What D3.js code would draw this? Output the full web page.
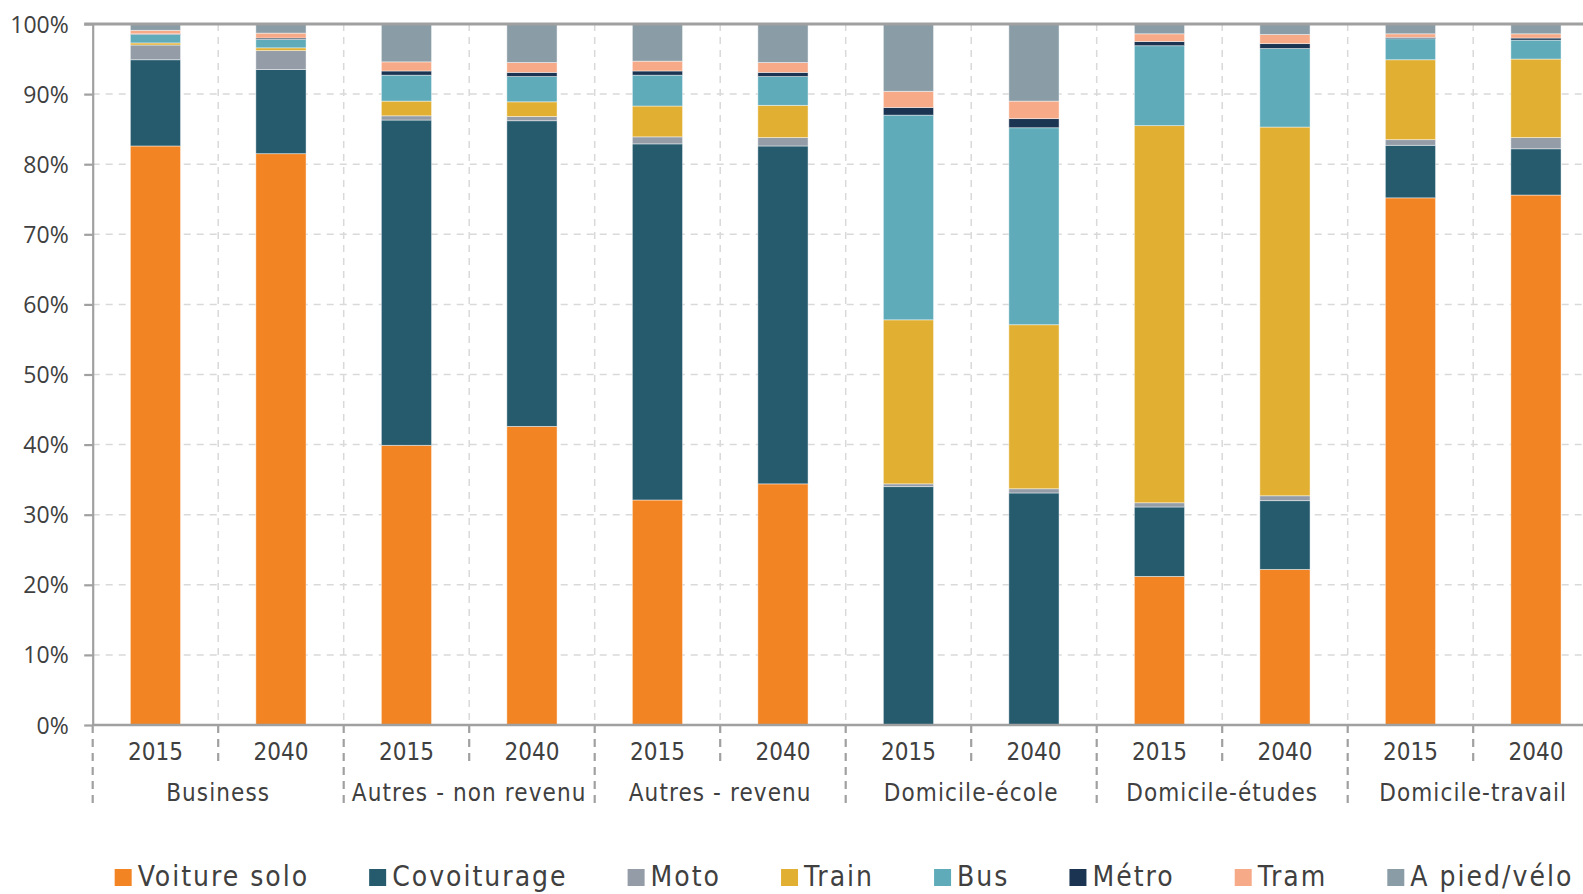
<!DOCTYPE html>
<html>
<head>
<meta charset="utf-8">
<script src="https://cdn.jsdelivr.net/npm/d3@7"></script>
<style>
  html, body { margin: 0; padding: 0; background: #fff; overflow: hidden; }
  svg { display: block; }
</style>
</head>
<body>
<svg id="chart" width="1583" height="894"></svg>
<script>
// ---------- DATA ----------
const categories = ["Business", "Autres - non revenu", "Autres - revenu", "Domicile-école", "Domicile-études", "Domicile-travail"];
const years = ["2015", "2040"];
const seriesNames = ["Voiture solo", "Covoiturage", "Moto", "Train", "Bus", "Métro", "Tram", "A pied/vélo"];

// values in %, order: Business 2015, Business 2040, Autres-non revenu 2015, 2040, ...
const voitureSolo = [82.6, 81.5, 39.9, 42.6, 32.1, 34.4, 0.0, 0.0, 21.2, 22.2, 75.2, 75.6];
const covoiturage = [12.3, 12.0, 46.4, 43.6, 50.8, 48.2, 34.0, 33.1, 9.9, 9.8, 7.5, 6.6];
const moto        = [2.1, 2.7, 0.6, 0.6, 1.0, 1.2, 0.4, 0.6, 0.6, 0.7, 0.8, 1.6];
const train       = [0.3, 0.4, 2.1, 2.1, 4.4, 4.6, 23.4, 23.4, 53.8, 52.6, 11.4, 11.2];
const bus         = [1.2, 1.2, 3.7, 3.6, 4.4, 4.1, 29.2, 28.1, 11.4, 11.2, 3.0, 2.7];
const metro       = [0.1, 0.2, 0.6, 0.6, 0.6, 0.6, 1.1, 1.3, 0.6, 0.7, 0.2, 0.3];
const tram        = [0.5, 0.7, 1.3, 1.4, 1.4, 1.4, 2.3, 2.5, 1.1, 1.3, 0.5, 0.6];
const aPiedVelo   = [0.9, 1.3, 5.4, 5.5, 5.3, 5.5, 9.6, 11.0, 1.4, 1.5, 1.4, 1.4];

const yTicks = [0, 10, 20, 30, 40, 50, 60, 70, 80, 90, 100];

const colors = ["#F28423", "#265B6E", "#939CA7", "#E1B033", "#5FABBA", "#1B3452", "#F6AA87", "#8A9DA7"];

// ---------- BUILD ----------
const seriesValues = [voitureSolo, covoiturage, moto, train, bus, metro, tram, aPiedVelo];
const keys = [];
categories.forEach(c => years.forEach(y => keys.push(c + "|" + y)));
const table = keys.map((k, i) => {
  const row = { key: k, cat: k.split("|")[0], year: k.split("|")[1] };
  seriesNames.forEach((s, j) => row[s] = seriesValues[j][i]);
  return row;
});
const stacked = d3.stack().keys(seriesNames)(table);

const svg = d3.select("#chart");
const plotLeft = 92.7, plotTop = 24, plotBottom = 725;
const step = 125.5;
const plotRight = plotLeft + step * keys.length;

const x = d3.scaleBand().domain(keys).range([plotLeft, plotRight]).paddingInner(0.6).paddingOuter(0.3);
const y = d3.scaleLinear().domain([0, 100]).range([plotBottom, plotTop]);

const textColor = "#404040";
const axisColor = "#A0A0A0";
const gridColor = "#D9D9D9";
const labelFont = "'DejaVu Sans Condensed', 'DejaVu Sans', sans-serif";

// horizontal gridlines
svg.append("g").selectAll("line").data(yTicks.filter(t => t > 0 && t < 100)).join("line")
  .attr("x1", plotLeft).attr("x2", 1583)
  .attr("y1", d => y(d)).attr("y2", d => y(d))
  .attr("stroke", gridColor).attr("stroke-width", 1.5).attr("stroke-dasharray", "7,6");

// vertical gridlines at slot boundaries
const boundaries = d3.range(1, keys.length).map(i => plotLeft + i * step);
svg.append("g").selectAll("line").data(boundaries).join("line")
  .attr("x1", d => d).attr("x2", d => d)
  .attr("y1", plotTop).attr("y2", plotBottom)
  .attr("stroke", gridColor).attr("stroke-width", 1.5).attr("stroke-dasharray", "7,6");

// bars
svg.append("g").selectAll("g").data(stacked).join("g")
  .attr("fill", (d, i) => colors[i])
  .selectAll("rect").data(d => d).join("rect")
  .attr("x", d => x(d.data.key))
  .attr("width", x.bandwidth())
  .attr("y", d => y(d[1]))
  .attr("height", d => Math.max(0, y(d[0]) - y(d[1])))
  .attr("stroke", "#ffffff").attr("stroke-opacity", 0.55).attr("stroke-width", 0.8);

// y axis
const yAxis = d3.axisLeft(y).tickValues(yTicks).tickFormat(d => d + "%").tickSize(8.5).tickSizeOuter(0);
const gy = svg.append("g").attr("transform", `translate(${plotLeft},0)`).call(yAxis);
gy.select(".domain").attr("stroke", axisColor).attr("stroke-width", 2.2);
gy.selectAll(".tick line").attr("stroke", axisColor).attr("stroke-width", 2.2);
gy.selectAll(".tick text")
  .attr("x", -24).attr("dy", "0.35em")
  .attr("fill", textColor)
  .style("font-family", "'Open Sans', 'Noto Sans', sans-serif")
  .style("font-size", "23px");

// top border line
svg.append("line").attr("x1", plotLeft - 8.5).attr("x2", 1583).attr("y1", plotTop).attr("y2", plotTop)
  .attr("stroke", axisColor).attr("stroke-width", 3);

// bottom axis line
svg.append("line").attr("x1", plotLeft).attr("x2", 1583).attr("y1", plotBottom).attr("y2", plotBottom)
  .attr("stroke", axisColor).attr("stroke-width", 2.5);

// x separators below axis
const sepData = d3.range(0, keys.length + 1).map(i => ({ x: plotLeft + i * step, long: i % 2 === 0 }));
svg.append("g").selectAll("line").data(sepData).join("line")
  .attr("x1", d => d.x).attr("x2", d => d.x)
  .attr("y1", plotBottom).attr("y2", d => d.long ? 808 : 767)
  .attr("stroke", axisColor).attr("stroke-width", 2.2).attr("stroke-dasharray", "8,6");

// year labels
svg.append("g").selectAll("text").data(table).join("text")
  .attr("x", d => x(d.key) + x.bandwidth() / 2)
  .attr("y", 760)
  .attr("text-anchor", "middle")
  .attr("fill", textColor)
  .style("font-family", labelFont)
  .style("font-size", "24px")
  .text(d => d.year);

// category labels
svg.append("g").selectAll("text").data(categories).join("text")
  .attr("x", (d, i) => plotLeft + (i * 2 + 1) * step)
  .attr("y", 801)
  .attr("text-anchor", "middle")
  .attr("fill", textColor)
  .style("font-family", labelFont)
  .style("font-size", "24px")
  .style("letter-spacing", "1.1px")
  .text(d => d);

// legend
const legend = svg.append("g");
const items = legend.selectAll("g").data(seriesNames).join("g");
items.append("rect").attr("width", 17).attr("height", 17).attr("y", 869).attr("fill", (d, i) => colors[i]);
items.append("text").attr("x", 23).attr("y", 886)
  .attr("fill", textColor)
  .style("font-family", labelFont)
  .style("font-size", "28px")
  .style("letter-spacing", "2px")
  .text(d => d);
let cx = 0;
const offsets = [];
items.each(function() {
  offsets.push(cx);
  const w = d3.select(this).select("text").node().getComputedTextLength();
  cx += 23 + w + 60;
});
const total = cx - 60;
const startX = 844 - total / 2;
items.attr("transform", (d, i) => `translate(${startX + offsets[i]},0)`);
</script>
</body>
</html>
